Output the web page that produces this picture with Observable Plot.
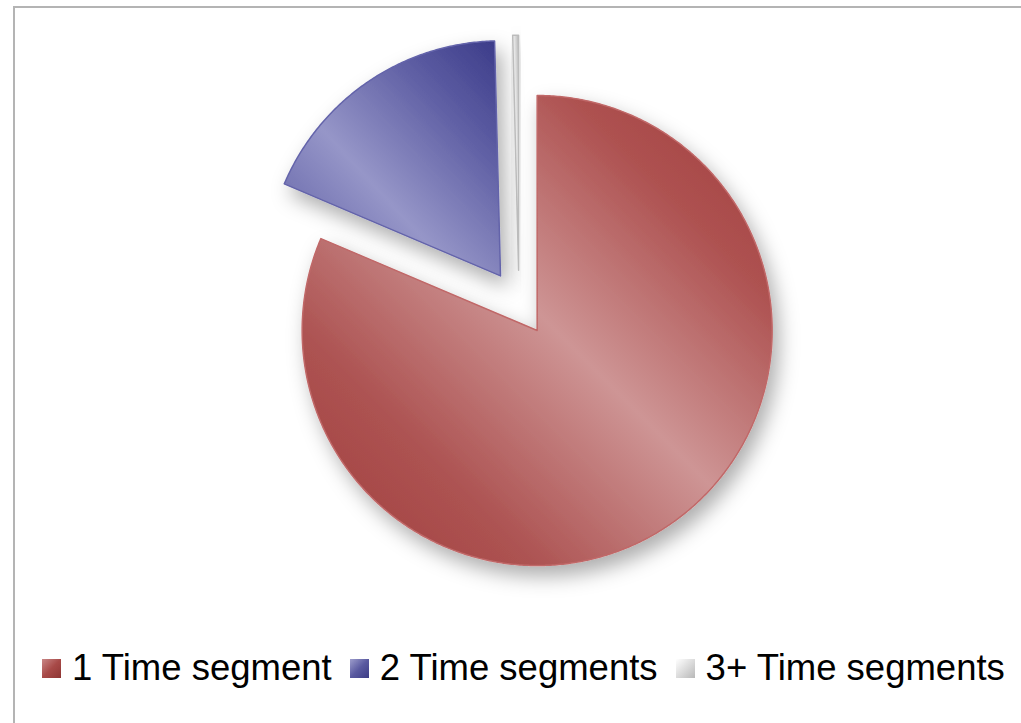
<!DOCTYPE html>
<html>
<head>
<meta charset="utf-8">
<script src="https://cdn.jsdelivr.net/npm/d3@7"></script>
<script src="https://cdn.jsdelivr.net/npm/@observablehq/plot@0.6"></script>
<style>
  html, body { margin: 0; padding: 0; background: #fff; overflow: hidden; }
  body { width: 1021px; height: 723px; position: relative; font-family: Arial, "Liberation Sans", sans-serif; }
  #frame { position: absolute; left: 13px; top: 6px; width: 1100px; height: 800px; border-left: 2px solid #b4b4b4; border-top: 2px solid #b4b4b4; }
  #chart { position: absolute; left: 0; top: 0; }
  #legend { position: absolute; left: 42px; top: 647px; display: flex; align-items: center; font-size: 36.5px; color: #000; white-space: nowrap; }
  .item { display: flex; align-items: center; margin-right: 18px; }
  .sw { width: 19px; height: 19px; margin-right: 11px; box-sizing: border-box; }
</style>
</head>
<body>
<div id="frame"></div>
<div id="chart"></div>
<div id="legend"></div>
<script>
// ---- data ----
const categories = ["1 Time segment", "2 Time segments", "3+ Time segments"];
const shares = [81.4, 18.2, 0.4];

// ---- styles ----
const gradStops = [
  [["0%", "#a03e3d"], ["25%", "#ad5352"], ["52%", "#ce9595"], ["78%", "#ae5251"], ["100%", "#a03e3d"]],
  [["0%", "#5a5aa2"], ["40%", "#9696c8"], ["75%", "#5c5ca2"], ["100%", "#3a3a88"]],
  [["0%", "#c4c4c4"], ["50%", "#f4f4f4"], ["100%", "#b8b8b8"]]
];
const strokeColors = ["#c06868", "#6464aa", "#bcbcbc"];
const swatchCss = [
  "linear-gradient(135deg,#c98787 0%,#a84a48 50%,#8e3533 100%)",
  "linear-gradient(135deg,#9d9dcc 0%,#5a5aa0 50%,#3c3c85 100%)",
  "linear-gradient(135deg,#ffffff 0%,#dcdcdc 50%,#b8b8b8 100%)"
];

const explode = 0.14;

const arcs = d3.pie().sort(null).value(d => d)(shares);
const pts = [];
arcs.forEach((a, i) => {
  const mid = (a.startAngle + a.endAngle) / 2;
  const ox = explode * Math.sin(mid), oy = explode * Math.cos(mid);
  pts.push({i, x: ox, y: oy});
  const n = Math.max(2, Math.ceil((a.endAngle - a.startAngle) / (Math.PI / 360)));
  for (let k = 0; k <= n; k++) {
    const t = a.startAngle + (a.endAngle - a.startAngle) * k / n;
    pts.push({i, x: ox + Math.sin(t), y: oy + Math.cos(t)});
  }
  pts.push({i, x: ox, y: oy});
});

const W = 1021, H = 640;
const plot = Plot.plot({
  width: W,
  height: H,
  marginLeft: 283.5,
  marginRight: 267.5,
  marginTop: 67.6,
  marginBottom: 102.4,
  x: {domain: [-1, 1], axis: null},
  y: {domain: [-1, 1], axis: null},
  marks: arcs.map((a, i) => Plot.line(pts.filter(p => p.i === i), {
    x: "x", y: "y", curve: "linear",
    fill: `url(#grad${i})`, stroke: strokeColors[i], strokeWidth: 1.5
  }))
});

const svg = d3.select(plot);
svg.style("overflow", "visible").style("background", "transparent");
const defs = svg.insert("defs", ":first-child");
gradStops.forEach((stops, i) => {
  const g = defs.append("linearGradient").attr("id", `grad${i}`)
    .attr("x1", 0).attr("y1", 1).attr("x2", 1).attr("y2", 0);
  stops.forEach(([o, c]) => g.append("stop").attr("offset", o).attr("stop-color", c));
});
const f = defs.append("filter").attr("id", "shadow").attr("x", "-20%").attr("y", "-20%").attr("width", "150%").attr("height", "150%");
f.append("feDropShadow").attr("dx", 6).attr("dy", 10).attr("stdDeviation", 10).attr("flood-color", "#000").attr("flood-opacity", 0.32);
svg.selectAll('g[aria-label="line"]').attr("filter", "url(#shadow)");

document.getElementById("chart").appendChild(plot);

const legend = d3.select("#legend");
categories.forEach((c, i) => {
  const it = legend.append("div").attr("class", "item");
  it.append("div").attr("class", "sw").style("background", swatchCss[i]);
  it.append("span").text(c);
});
</script>
</body>
</html>
